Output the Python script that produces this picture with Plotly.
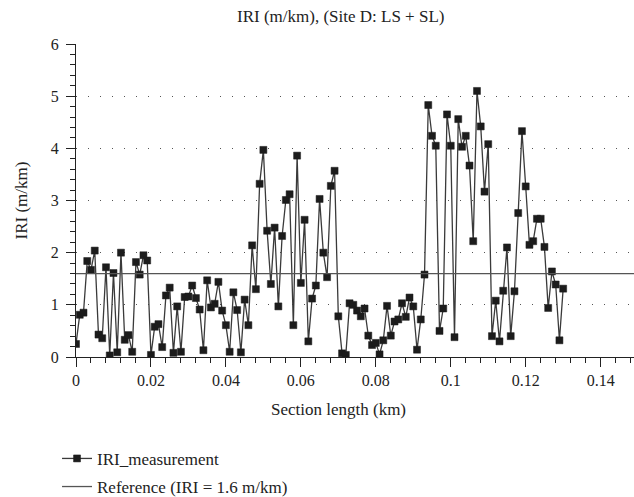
import plotly.graph_objects as go

# Section length positions (km) – one measurement every metre
section_km = [round(i * 0.001, 3) for i in range(131)]

iri_measurement = [
    0.25, 0.81, 0.85, 1.84, 1.67, 2.04, 0.43, 0.36, 1.72, 0.03,
    1.61, 0.09, 2.00, 0.33, 0.42, 0.10, 1.82, 1.58, 1.95, 1.85,
    0.04, 0.58, 0.63, 0.19, 1.18, 1.33, 0.08, 0.97, 0.10, 1.15,
    1.16, 1.37, 1.13, 0.91, 0.13, 1.47, 0.95, 1.02, 1.44, 0.89,
    0.61, 0.10, 1.24, 0.90, 0.09, 1.10, 0.61, 2.14, 1.30, 3.32,
    3.97, 2.42, 1.40, 2.48, 0.97, 2.32, 3.01, 3.12, 0.61, 3.86,
    1.42, 2.63, 0.30, 1.12, 1.37, 3.03, 2.00, 1.53, 3.28, 3.57,
    0.78, 0.07, 0.04, 1.03, 1.00, 0.89, 0.78, 0.93, 0.41, 0.23,
    0.27, 0.05, 0.32, 0.98, 0.41, 0.68, 0.72, 1.03, 0.77, 1.14,
    0.97, 0.14, 0.72, 1.58, 4.83, 4.24, 4.05, 0.50, 0.93, 4.65,
    4.05, 0.38, 4.56, 4.03, 4.24, 3.67, 2.22, 5.10, 4.42, 3.17,
    4.08, 0.40, 1.08, 0.30, 1.27, 2.10, 0.40, 1.26, 2.76, 4.33,
    3.27, 2.15, 2.22, 2.65, 2.65, 2.11, 0.94, 1.64, 1.39, 0.32,
    1.31,
]

reference_iri = 1.6
x_axis_range = [0, 0.1489]
y_axis_range = [0, 6]
x_tick_values = [0, 0.02, 0.04, 0.06, 0.08, 0.1, 0.12, 0.14]
x_tick_labels = ["0", "0.02", "0.04", "0.06", "0.08", "0.1", "0.12", "0.14"]
y_tick_values = [0, 1, 2, 3, 4, 5, 6]
y_tick_labels = ["0", "1", "2", "3", "4", "5", "6"]

FONT = "Times New Roman, Liberation Serif, DejaVu Serif, serif"

fig = go.Figure()
fig.add_trace(go.Scatter(
    x=section_km, y=iri_measurement, mode="lines+markers",
    name="IRI_measurement", legendgroup="a",
    line=dict(color="#3a3a3a", width=1.3),
    marker=dict(symbol="square", size=7, color="#1c1c1c",
                line=dict(color="#1c1c1c", width=0.5)),
))
fig.add_trace(go.Scatter(
    x=x_axis_range, y=[reference_iri, reference_iri], mode="lines",
    name="Reference (IRI = 1.6 m/km)", legendgroup="b",
    line=dict(color="#555555", width=1.3),
))

axis_common = dict(
    showline=True, linecolor="#222222", linewidth=1.3,
    ticks="outside", ticklen=9, tickwidth=1.2, tickcolor="#222222",
    tickfont=dict(family=FONT, size=16, color="#222222"),
    zeroline=False,
)
fig.update_xaxes(
    range=x_axis_range, tickvals=x_tick_values, ticktext=x_tick_labels,
    showgrid=False,
    minor=dict(ticks="outside", ticklen=5, dtick=0.004, tick0=0,
               tickcolor="#222222", tickwidth=1, showgrid=False),
    **axis_common,
)
fig.update_yaxes(
    range=y_axis_range, tickvals=y_tick_values, ticktext=y_tick_labels,
    showgrid=True, gridcolor="#555555", gridwidth=1.2, griddash="1px,11px",
    minor=dict(ticks="outside", ticklen=5, dtick=0.2, tick0=0,
               tickcolor="#222222", tickwidth=1, showgrid=False),
    ticklabelstandoff=4,
    title=dict(text="IRI (m/km)", font=dict(family=FONT, size=17, color="#222222"),
               standoff=18),
    **axis_common,
)

fig.update_layout(
    width=634, height=497,
    margin=dict(l=76, r=0, t=44, b=140, autoexpand=False),
    paper_bgcolor="white", plot_bgcolor="white",
    font=dict(family=FONT, size=16, color="#222222"),
    showlegend=True,
    legend=dict(x=-0.034, xanchor="left", y=-0.268, yanchor="top",
                tracegroupgap=3, traceorder="grouped",
                font=dict(family=FONT, size=17, color="#222222"),
                bgcolor="rgba(0,0,0,0)"),
    annotations=[
        dict(text="IRI (m/km), (Site D: LS + SL)", xref="paper", yref="paper",
             x=(340 - 76) / 558, y=1, yshift=28, xanchor="center", yanchor="middle",
             showarrow=False, font=dict(family=FONT, size=17, color="#222222")),
        dict(text="Section length (km)", xref="paper", yref="paper",
             x=(338 - 76) / 558, y=0, yshift=-52, xanchor="center", yanchor="middle",
             showarrow=False, font=dict(family=FONT, size=17, color="#222222")),
    ],
)

fig.write_html("out.html")
